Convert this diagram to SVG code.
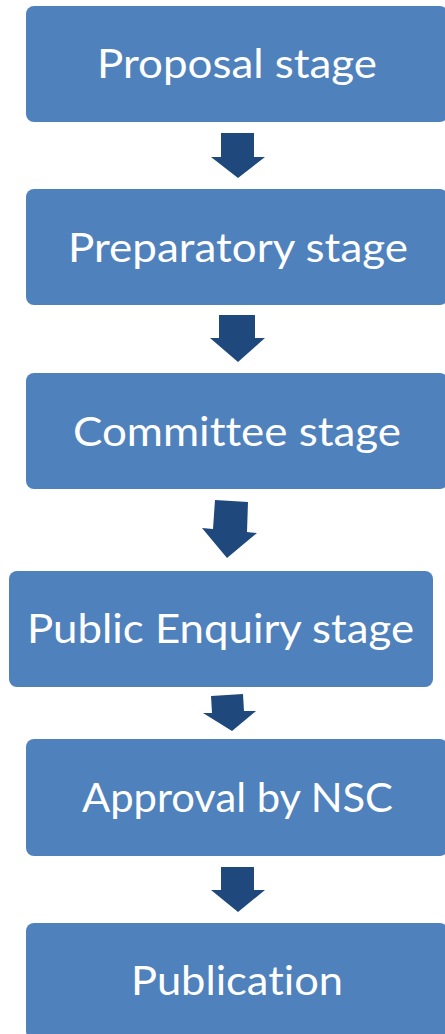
<svg xmlns="http://www.w3.org/2000/svg" width="445" height="1034" viewBox="0 0 445 1034">
<style>
.box{fill:#4F81BD;}
.lbl{fill:#FFFFFF;font-family:Lato,"Open Sans","Liberation Sans",sans-serif;font-size:40px;text-anchor:middle;font-variant-ligatures:none;font-feature-settings:"liga" 0,"clig" 0,"dlig" 0;}
.arr{fill:#1F497D;}
</style>
<rect width="445" height="1034" fill="#FFFFFF"/>
<g id="connectors">
<polygon class="arr" points="221,133 254,133 254,157 265,157 238,178 211,157 221,157"/>
<polygon class="arr" points="219,315 255,315 255,338 265,338 238,362 210,338 219,338"/>
<polygon class="arr" points="215,500 248,502 247,532 257,533 227,558 202,528 213,529"/>
<polygon class="arr" points="211,696 243,694 244,711 256,711 232,731 203,713 212,713"/>
<polygon class="arr" points="221,867 254,867 254,890 265,890 238,912 211,890 221,890"/>
</g>
<g id="n1"><rect class="box" x="26" y="6" width="422" height="116" rx="8"/><text class="lbl" x="237" y="78" textLength="280" lengthAdjust="spacingAndGlyphs">Proposal stage</text></g>
<g id="n2"><rect class="box" x="26" y="189" width="422" height="116" rx="8"/><text class="lbl" x="238" y="262" textLength="340" lengthAdjust="spacingAndGlyphs">Preparatory stage</text></g>
<g id="n3"><rect class="box" x="26" y="373" width="422" height="116" rx="8"/><text class="lbl" x="237" y="446" textLength="328" lengthAdjust="spacingAndGlyphs">Committee stage</text></g>
<g id="n4"><rect class="box" x="9" y="571" width="424" height="116" rx="8"/><text class="lbl" x="220.5" y="643" textLength="387" lengthAdjust="spacingAndGlyphs">Public Enquiry stage</text></g>
<g id="n5"><rect class="box" x="26" y="739" width="422" height="117" rx="8"/><text class="lbl" x="237.5" y="812" textLength="311" lengthAdjust="spacingAndGlyphs">Approval by NSC</text></g>
<g id="n6"><rect class="box" x="26" y="923" width="422" height="116" rx="8"/><text class="lbl" x="237" y="995" textLength="212" lengthAdjust="spacingAndGlyphs">Publication</text></g>
</svg>
